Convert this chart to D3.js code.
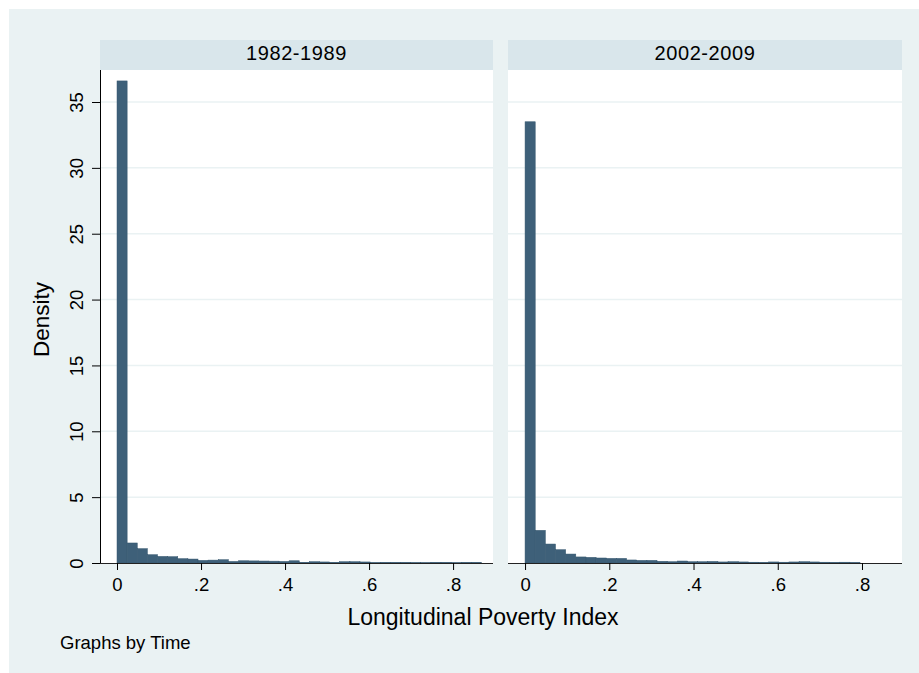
<!DOCTYPE html>
<html>
<head>
<meta charset="utf-8">
<script src="https://cdn.jsdelivr.net/npm/d3@7"></script>
<style>
html,body{margin:0;padding:0;background:#ffffff;}
text{font-family:"Liberation Sans",Arial,Helvetica,sans-serif;fill:#000;}
</style>
</head>
<body>
<script>
// ---- data ----
const panels = ["1982-1989", "2002-2009"];
const binWidth = 0.0241;
const density1982 = [36.6, 1.52, 1.09, 0.63, 0.50, 0.48, 0.33, 0.30, 0.20, 0.22, 0.25, 0.12,
  0.17, 0.16, 0.15, 0.14, 0.12, 0.17, 0.05, 0.10, 0.08, 0.05, 0.10, 0.10, 0.08, 0.03,
  0.05, 0.05, 0.05, 0.03, 0.02, 0.05, 0.05, 0.02, 0.05, 0.05];
const density2002 = [33.5, 2.48, 1.44, 1.01, 0.68, 0.46, 0.43, 0.38, 0.35, 0.35, 0.23, 0.20,
  0.20, 0.13, 0.10, 0.15, 0.10, 0.10, 0.12, 0.08, 0.10, 0.08, 0.06, 0.05, 0.08, 0.06,
  0.08, 0.10, 0.08, 0.06, 0.05, 0.06, 0.04];
const seriesValues = [density1982, density2002];
const xTicks = [0, 0.2, 0.4, 0.6, 0.8];
const xTickLabels = ["0", ".2", ".4", ".6", ".8"];
const yTicks = [0, 5, 10, 15, 20, 25, 30, 35];
const xTitle = "Longitudinal Poverty Index";
const yTitle = "Density";
const note = "Graphs by Time";

// ---- layout ----
const W = 919, H = 673;
const svg = d3.select("body").append("svg").attr("width", W).attr("height", H);
svg.append("rect").attr("x", 9).attr("y", 9).attr("width", W - 9).attr("height", H - 9).attr("fill", "#eaf2f3");

const plotTop = 70, plotBottom = 563, headerTop = 40;
const panelX = [[100, 493], [508, 902]];
const barColor = "#3e6079";

const y = d3.scaleLinear().domain([0, 37.43]).range([plotBottom, plotTop]);

panels.forEach((name, p) => {
  const [x0, x1] = panelX[p];
  const x = d3.scaleLinear().domain([-0.0405, 0.895]).range([x0, x1]);
  const g = svg.append("g");
  // header strip
  g.append("rect").attr("x", x0).attr("y", headerTop).attr("width", x1 - x0).attr("height", plotTop - headerTop).attr("fill", "#d9e6eb");
  g.append("text").attr("x", (x0 + x1) / 2).attr("y", 59.5).attr("text-anchor", "middle")
    .attr("font-size", 20).attr("letter-spacing", 0.6).text(name);
  // plot region
  g.append("rect").attr("x", x0).attr("y", plotTop).attr("width", x1 - x0).attr("height", plotBottom - plotTop).attr("fill", "#ffffff");
  // gridlines
  g.selectAll("line.grid").data(yTicks.filter(d => d > 0)).join("line")
    .attr("x1", x0).attr("x2", x1).attr("y1", d => y(d)).attr("y2", d => y(d))
    .attr("stroke", "#eaf2f3").attr("stroke-width", 1.5);
  // bars
  const vals = seriesValues[p];
  g.selectAll("rect.bar").data(vals).join("rect")
    .attr("x", (d, i) => x(i * binWidth))
    .attr("width", (d, i) => x((i + 1) * binWidth) - x(i * binWidth))
    .attr("y", d => y(d))
    .attr("height", d => y(0) - y(d))
    .attr("fill", barColor).attr("stroke", "#34566e").attr("stroke-width", 0.5);
  // x axis
  const xa = g.append("g").attr("transform", `translate(0,${plotBottom})`)
    .call(d3.axisBottom(x).tickValues(xTicks).tickFormat((d, i) => xTickLabels[i]).tickSize(7).tickPadding(8));
  xa.select(".domain").attr("d", `M${x0},0.5H${x1}`).attr("stroke", "#222");
  xa.selectAll(".tick line").attr("stroke", "#000");
  xa.selectAll(".tick text").attr("font-size", 18.5).attr("font-family", '"Liberation Sans",Arial,sans-serif').attr("fill", "#000");
  if (p === 0) {
    const ya = g.append("g").attr("transform", `translate(${x0},0)`)
      .call(d3.axisLeft(y).tickValues(yTicks).tickSize(8).tickPadding(0));
    ya.select(".domain").attr("d", `M0.5,${plotTop}V${plotBottom}`).attr("stroke", "#000");
    ya.selectAll(".tick line").attr("stroke", "#000");
    ya.selectAll(".tick text").attr("font-size", 18.5).attr("font-family", '"Liberation Sans",Arial,sans-serif').attr("fill", "#000")
      .attr("text-anchor", "middle").attr("dy", 0).attr("x", 0)
      .attr("transform", "translate(-17,0) rotate(-90)");
  }
});

svg.append("text").attr("x", 483).attr("y", 625).attr("text-anchor", "middle").attr("font-size", 23).text(xTitle);
svg.append("text").attr("transform", `translate(49,${(plotTop + plotBottom) / 2 + 3}) rotate(-90)`).attr("text-anchor", "middle").attr("font-size", 22.5).text(yTitle);
svg.append("text").attr("x", 60).attr("y", 649).attr("font-size", 18.5).text(note);
</script>
</body>
</html>
